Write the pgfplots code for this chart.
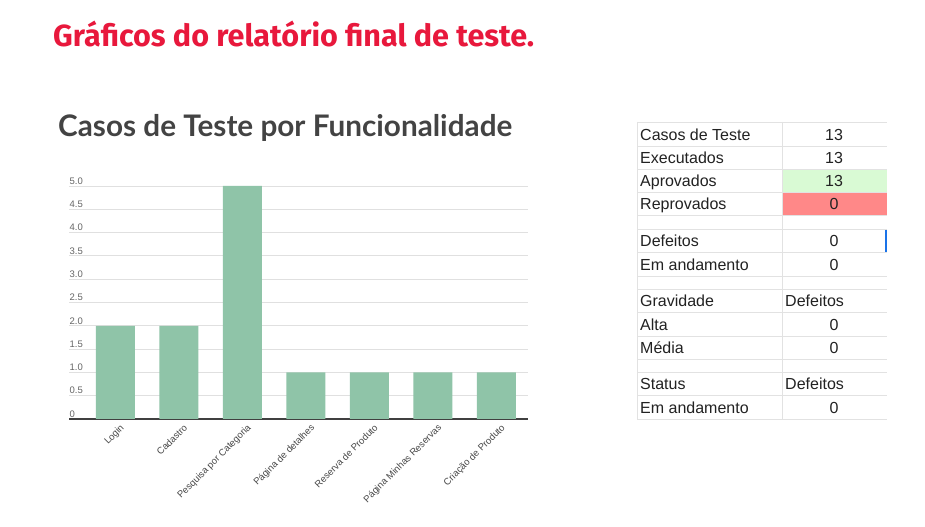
\documentclass[border=0pt]{standalone}
\usepackage{fontspec}
\setmainfont{Liberation Sans}
\newfontfamily\fira{Fira Sans}
\newfontfamily\lato{Lato}
\usepackage{pgfplots}
\pgfplotsset{compat=1.18}
\usepackage{graphicx}
\definecolor{titred}{RGB}{232,24,60}
\definecolor{bargreen}{RGB}{143,196,168}
\definecolor{ttl}{RGB}{67,67,67}
\definecolor{gridc}{RGB}{224,224,224}
\definecolor{tline}{RGB}{226,226,226}
\definecolor{okg}{RGB}{217,250,212}
\definecolor{badr}{RGB}{255,136,136}
\definecolor{txt}{RGB}{34,34,34}
\definecolor{cursor}{RGB}{26,115,232}
\begin{document}
\begin{tikzpicture}[x=1bp,y=1bp]
\path[fill=white] (0,0) rectangle (925,527);
\node[anchor=base west, inner sep=0, text=titred] at (53,480) {\resizebox{481bp}{!}{\fira\bfseries Gráficos do relatório final de teste.}};
\node[anchor=base west, inner sep=0, text=ttl] at (58,390) {\resizebox{454bp}{!}{\lato\bfseries Casos de Teste por Funcionalidade}};
\begin{axis}[
  at={(69bp,108bp)}, anchor=south west,
  scale only axis, width=459bp, height=233bp,
  xmin=-0.73, xmax=6.5, ymin=0, ymax=5,
  axis x line=bottom, axis y line=left,
  axis line style={-},
  y axis line style={draw=none},
  x axis line style={draw=black!75, line width=1.3bp},
  ytick={0,0.5,...,5},
  yticklabels={0,0.5,1.0,1.5,2.0,2.5,3.0,3.5,4.0,4.5,5.0},
  ymajorgrids, grid style={gridc, line width=0.8bp},
  major tick length=0,
  /pgf/number format/assume math mode=true,
  yticklabel style={anchor=south west, font=\fontsize{9.5bp}{10bp}\selectfont, text=black!60, inner sep=1.5bp, xshift=-1bp},
  xtick={0,...,6},
  xticklabels={Login,Cadastro,Pesquisa por Categoria,Página de detalhes,Reserva de Produto,Página Minhas Reservas,Criação de Produto},
  xticklabel style={rotate=45, anchor=north east, font=\fontsize{9.5bp}{10bp}\selectfont, text=black!72, inner sep=1bp, xshift=1bp, yshift=-5bp},
]
\addplot[ybar, bar width=0.614, fill=bargreen, draw=none] coordinates {(0,2)(1,2)(2,5)(3,1)(4,1)(5,1)(6,1)};
\end{axis}
% table
\fill[okg] (782,358) rectangle (887,335);
\fill[badr] (782,335) rectangle (887,312);
\foreach \b in {122,146,169,192,215,229,252,276,289,312,336,359,372,395,419}{
  \draw[tline, line width=0.8bp] (637,527-\b) -- (887,527-\b);
}
\draw[tline, line width=0.8bp] (637,405) -- (637,108);
\draw[tline, line width=0.8bp] (782,405) -- (782,108);
\draw[cursor, line width=1.3bp] (886,297) -- (886,275);
\foreach \lab/\val/\b in {Casos de Teste/13/146, Executados/13/169, Aprovados/13/192, Reprovados/0/215, Defeitos/0/252, Em andamento/0/276, Alta/0/336, Média/0/359, Em andamento/0/419}{
  \node[anchor=base west, inner sep=0, text=txt, font=\fontsize{16bp}{18bp}\selectfont] at (640,532-\b) {\lab};
  \node[anchor=base, inner sep=0, text=txt, font=\fontsize{16bp}{18bp}\selectfont] at (834,532-\b) {\val};
}
\foreach \lab/\b in {Gravidade/312, Status/395}{
  \node[anchor=base west, inner sep=0, text=txt, font=\fontsize{16bp}{18bp}\selectfont] at (640,532-\b) {\lab};
  \node[anchor=base west, inner sep=0, text=txt, font=\fontsize{16bp}{18bp}\selectfont] at (785,532-\b) {Defeitos};
}
\end{tikzpicture}
\end{document}
